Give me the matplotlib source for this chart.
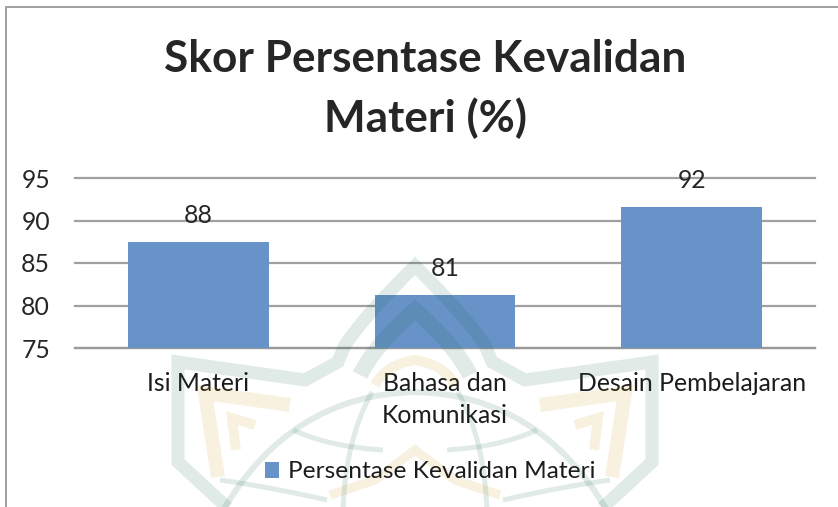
import matplotlib
matplotlib.use("Agg")
import matplotlib.pyplot as plt
from matplotlib.patches import Rectangle, PathPatch
from matplotlib.path import Path

categories = ["Isi Materi", "Bahasa dan\nKomunikasi", "Desain Pembelajaran"]
values = [87.5, 81.2, 91.6]
labels = ["88", "81", "92"]
yticks = [75, 80, 85, 90, 95]
series_name = "Persentase Kevalidan Materi"
title_lines = ["Skor Persentase Kevalidan", "Materi (%)"]

W, H = 838, 507
plt.rcParams["font.family"] = ["Lato", "DejaVu Sans"]
fig = plt.figure(figsize=(W/100, H/100), dpi=100)
fig.patches.append(Rectangle((6/W, -0.1), 1.1, 1.1-7/H, transform=fig.transFigure,
                             fill=False, ec="#a0a0a0", lw=1.4))
ax = fig.add_axes([75/W, 1-348/H, 740/W, 170/H])
ax.patch.set_alpha(0)
bars = ax.bar(range(3), values, width=0.571, color="#6893c8", zorder=3, label=series_name)
ax.set_xlim(-0.5, 2.5)
ax.set_ylim(75, 95)
ax.set_yticks(yticks)
ax.set_xticks(range(3))
ax.set_xticklabels(categories, fontsize=17.8, color="#1c1c1c", linespacing=1.5)
ax.tick_params(axis="both", length=0)
ax.tick_params(axis="x", pad=17)
ax.tick_params(axis="y", pad=18, labelsize=17.8, labelcolor="#262626")
ax.grid(axis="y", color="#a0a0a0", lw=1.6, zorder=1)
for g in ax.get_ygridlines():
    g.set_clip_on(False)
for s in ("top", "left", "right"):
    ax.spines[s].set_visible(False)
ax.spines["bottom"].set_color("#999999")
ax.spines["bottom"].set_linewidth(1.6)
for i, (v, l) in enumerate(zip(values, labels)):
    ax.annotate(l, (i, v), xytext=(0, 15), textcoords="offset pixels", ha="center", va="bottom",
                fontsize=17.8, color="#262626", zorder=4)

# faint background watermark of the scanned page (decoration, not data)
wm = fig.add_axes([0, 0, 1, 1], zorder=2)
wm.set_xlim(0, W)
wm.set_ylim(H, 0)
wm.axis("off")
GREEN = (20/255, 100/255, 70/255, 0.13)
GOLD = (200/255, 140/255, 0, 0.12)
M = Path.MOVETO; L = Path.LINETO; Q = Path.CURVE3
CX = 415


def mir(p):
    return (2*CX - p[0], p[1])


def add(verts, codes, color, lw):
    wm.add_patch(PathPatch(Path(verts, codes), fill=False, ec=color, lw=lw*0.72,
                           capstyle="butt", joinstyle="miter"))


def sym(verts, codes, color, lw):
    """Path starting on the centre line, joined with its mirror image."""
    v = [mir(p) for p in verts[::-1]] + verts[1:]
    c = [M] + codes[:0:-1] + codes[1:]
    add(v, c, color, lw)


def pair(verts, codes, color, lw):
    add(verts, codes, color, lw)
    add([mir(p) for p in verts], codes, color, lw)


# star outline, inner chevron
sym([(415, 266), (365, 315), (345, 345), (338, 362), (305, 380), (178, 362), (178, 462), (232, 512)],
    [M, Q, Q, L, L, L, L, L], GREEN, 13)
sym([(415, 310), (375, 345), (360, 375)], [M, Q, Q], GREEN, 16)
# gold leaves and centre
sym([(415, 360), (385, 365), (375, 385)], [M, Q, Q], GOLD, 10)
pair([(290, 405), (205, 393), (218, 477)], [M, L, L], GOLD, 14)
pair([(255, 425), (232, 418), (236, 450)], [M, L, L], GOLD, 10)
sym([(415, 450), (375, 480), (330, 495)], [M, L, L], GOLD, 9)
# globe
sym([(415, 392), (290, 395), (222, 512)], [M, Q, Q], GREEN, 6)
pair([(372, 392), (345, 440), (343, 512)], [M, Q, Q], GREEN, 5)
pair([(293, 430), (330, 447), (383, 450)], [M, Q, Q], GREEN, 5)
pair([(220, 480), (270, 487), (327, 500)], [M, Q, Q], GREEN, 5)

fig.text(425/W, 1-59/H, title_lines[0], ha="center", va="center",
         fontsize=31.8, fontweight="bold", color="#262626", zorder=5)
fig.text(425/W, 1-118/H, title_lines[1], ha="center", va="center",
         fontsize=31.8, fontweight="bold", color="#262626", zorder=5)
fig.legend(handles=[bars], labels=[series_name], loc="center", bbox_to_anchor=(430/W, 1-472/H),
           frameon=False, fontsize=17.6, handlelength=0.6, handleheight=0.6, handletextpad=0.36,
           labelcolor="#1c1c1c")
fig.savefig("out.png", dpi=100)
